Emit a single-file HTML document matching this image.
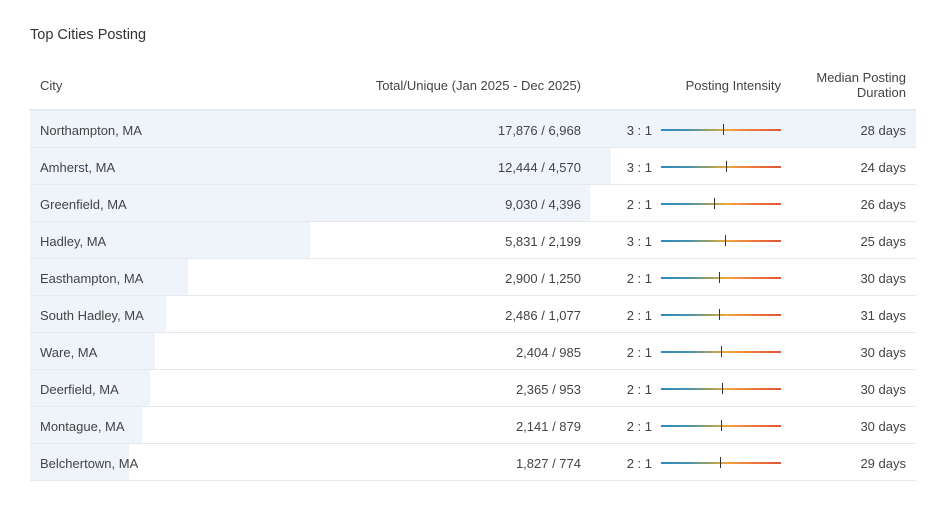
<!DOCTYPE html>
<html><head><meta charset="utf-8"><style>
body{margin:0;width:946px;height:511px;background:#fff;font-family:"Liberation Sans",sans-serif;color:#444;position:relative;overflow:hidden}
.a{position:absolute;font-size:13px;white-space:nowrap}
.r{text-align:right}
.row{position:absolute;left:30px;width:886px;height:36px;border-bottom:1px solid #e6e9ee}
.bar{position:absolute;left:0;top:0;height:36px;background:#eff4fb}
.line{position:absolute;left:631px;top:18px;width:120px;height:2px;background:linear-gradient(90deg,#2b8cc4 0%,#4f93a8 25%,#a4a25a 42%,#f0a83e 55%,#ef7a3c 75%,#e1563a 100%)}
.tk{position:absolute;top:13px;width:1px;height:11px;background:#333}
</style></head><body>
<div class="a" style="left:30px;top:27px;font-size:14.5px;color:#333">Top Cities Posting</div>
<div style="position:absolute;left:30px;top:109px;width:886px;height:2px;background:#e6e9ee"></div>
<div class="a" style="left:40px;top:78px">City</div>
<div class="a r" style="left:300px;width:281px;top:78px">Total/Unique (Jan 2025 - Dec 2025)</div>
<div class="a r" style="left:600px;width:181px;top:78px">Posting Intensity</div>
<div class="a r" style="left:790px;width:116px;top:70px;line-height:15px;white-space:normal">Median Posting<br>Duration</div>
<div id="rows"></div>
<script>
var d=[["Northampton, MA","17,876 / 6,968","3 : 1",723,"28 days",886],
["Amherst, MA","12,444 / 4,570","3 : 1",726,"24 days",581],
["Greenfield, MA","9,030 / 4,396","2 : 1",714,"26 days",560],
["Hadley, MA","5,831 / 2,199","3 : 1",725,"25 days",280],
["Easthampton, MA","2,900 / 1,250","2 : 1",719,"30 days",158],
["South Hadley, MA","2,486 / 1,077","2 : 1",719,"31 days",136],
["Ware, MA","2,404 / 985","2 : 1",721,"30 days",125],
["Deerfield, MA","2,365 / 953","2 : 1",722,"30 days",120],
["Montague, MA","2,141 / 879","2 : 1",721,"30 days",112],
["Belchertown, MA","1,827 / 774","2 : 1",720,"29 days",99]];
var h="";d.forEach(function(r,i){var t=111+i*37;
h+='<div class="row" style="top:'+t+'px"><div class="bar" style="width:'+r[5]+'px"></div>'+
'<div class="a" style="left:10px;top:12px">'+r[0]+'</div>'+
'<div class="a r" style="left:300px;width:251px;top:12px">'+r[1]+'</div>'+
'<div class="a r" style="left:570px;width:52px;top:12px">'+r[2]+'</div>'+
'<div class="line"></div><div class="tk" style="left:'+(r[3]-30)+'px"></div>'+
'<div class="a r" style="left:780px;width:96px;top:12px">'+r[4]+'</div></div>';});
document.getElementById("rows").innerHTML=h;
</script>
</body></html>
